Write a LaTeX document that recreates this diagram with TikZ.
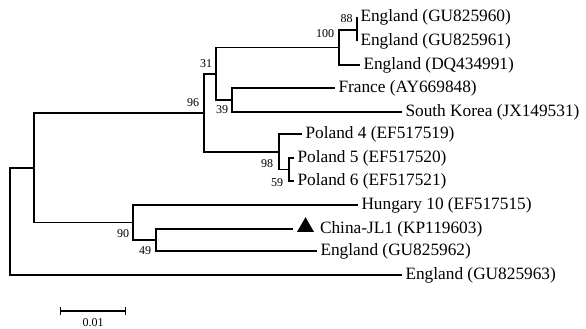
\documentclass[tikz,border=0pt]{standalone}
\usepackage{fontspec}
\setmainfont{Liberation Serif}
\usetikzlibrary{shapes.geometric,arrows.meta}
\tikzset{
 branch/.style={line width=1.8pt, to path={|- (\tikztotarget)}},
 taxon/.style={anchor=west, inner sep=0pt, outer sep=3.5pt, font=\fontsize{17.3}{19}\selectfont},
 boot/.style={inner sep=0pt, font=\fontsize{12}{13}\selectfont},
 jlmark/.style={regular polygon, regular polygon sides=3, fill, inner sep=0pt, minimum size=19.6pt},
}
\begin{document}
\begin{tikzpicture}[x=1pt,y=-1pt]
 \useasboundingbox (0,0) rectangle (586,329);
 \coordinate (r)   at ( 10,221.3);
 \coordinate (nA)  at ( 34,167.6);
 \coordinate (n96) at (204,112.75);
 \coordinate (n31) at (216,73.75);
 \coordinate (n100) at (339,47.5);
 \coordinate (n88) at (357,30);
 \coordinate (n39) at (232,100);
 \coordinate (n98) at (279,151.75);
 \coordinate (n59) at (289,169.5);
 \coordinate (n90) at (133,222.5);
 \coordinate (n49) at (156,240);
 \node[taxon] (eng60) at (357,17)  {England (GU825960)};
 \node[taxon] (eng61) at (357,41)  {England (GU825961)};
 \node[taxon] (dq)    at (360,65)  {England (DQ434991)};
 \node[taxon] (fra)   at (335,88)  {France (AY669848)};
 \node[taxon] (kor)   at (402,112) {South Korea (JX149531)};
 \node[taxon] (pol4)  at (302,134) {Poland 4 (EF517519)};
 \node[taxon] (pol5)  at (294,158) {Poland 5 (EF517520)};
 \node[taxon] (pol6)  at (294,181) {Poland 6 (EF517521)};
 \node[taxon] (hun)   at (358,205) {Hungary 10 (EF517515)};
 \coordinate (jltip) at (293,229);
 \node[jlmark] (jl1mark) at (305.5,227) {};
 \node[taxon, outer sep=0pt] (jl1) at (320,229) {China-JL1 (KP119603)};
 \node[taxon] (eng62) at (317,251) {England (GU825962)};
 \node[taxon] (eng63) at (402,275) {England (GU825963)};
 \path (r) edge[branch] (nA) edge[branch] (eng63.west);
 \path (nA) edge[branch] (n96) edge[branch] (n90);
 \path (n96) edge[branch] (n31) edge[branch] (n98);
 \path (n31) edge[branch] (n100) edge[branch] (n39);
 \path (n100) edge[branch] (n88) edge[branch] (dq.west);
 \path (n88) edge[branch] (eng60.west) edge[branch] (eng61.west);
 \path (n39) edge[branch] (fra.west) edge[branch] (kor.west);
 \path (n98) edge[branch] (pol4.west) edge[branch] (n59);
 \path (n59) edge[branch] (pol5.west) edge[branch] (pol6.west);
 \path (n90) edge[branch] (hun.west) edge[branch] (n49);
 \path (n49) edge[branch] (jltip) edge[branch] (eng62.west);
 \node[boot] (b88)  at (346.5,19) {88};
 \node[boot] (b100) at (325,34)   {100};
 \node[boot] (b31)  at (206,64)   {31};
 \node[boot] (b96)  at (193,103)  {96};
 \node[boot] (b39)  at (222,110)  {39};
 \node[boot] (b98)  at (267,164)  {98};
 \node[boot] (b59)  at (277,183)  {59};
 \node[boot] (b90)  at (123,234)  {90};
 \node[boot] (b49)  at (145,251)  {49};
 \coordinate (s0) at (60,311);
 \coordinate (s1) at (126,311);
 \draw[line width=1.2pt, {Bar[width=8pt]}-{Bar[width=8pt]}] (s0) -- (s1);
 \node[boot] (sbar) at (93,323) {0.01};
\end{tikzpicture}
\end{document}
